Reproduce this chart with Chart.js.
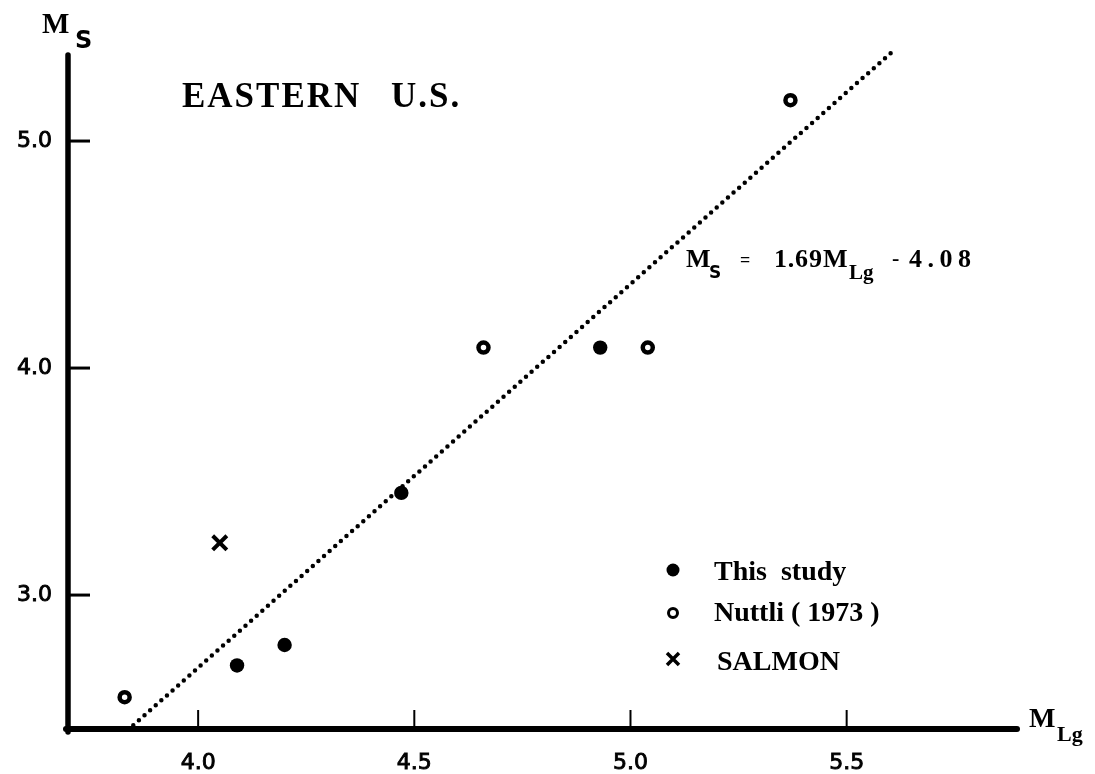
<!DOCTYPE html>
<html>
<head>
    <title>Eastern U.S. M_S vs M_Lg</title>
    <style>
        body { margin: 0; background: #fff; }
        #chart { display: block; }
    </style>
    <script src="https://cdn.jsdelivr.net/npm/chart.js"></script>
</head>
<body>
    <canvas id="chart" width="1095" height="774"></canvas>

    <script>
        // magnitudes, one pair of arrays per source
        const thisStudyLg = [4.09, 4.20, 4.47, 4.93];
        const thisStudyMs = [2.69, 2.78, 3.45, 4.09];
        const nuttliLg = [3.83, 4.66, 5.04, 5.37];
        const nuttliMs = [2.55, 4.09, 4.09, 5.18];
        const salmonLg = [4.05];
        const salmonMs = [3.23];

        // fitted line Ms = 1.69 MLg - 4.08, drawn over this MLg range
        const fitSlope = 1.69;
        const fitIntercept = -4.08;
        const fitRange = [3.85, 5.61];

        const xTickValues = [4.0, 4.5, 5.0, 5.5];
        const yTickValues = [3.0, 4.0, 5.0];

        const pairs = (xs, ys) => xs.map((x, i) => ({ x: x, y: ys[i] }));
        const fitLine = fitRange.map(x => ({ x: x, y: fitSlope * x + fitIntercept }));

        const SERIF = '"Liberation Serif", "DejaVu Serif", serif';
        const SANS = '"DejaVu Sans", sans-serif';

        function txt(ctx, s, x, y, font, spacing) {
            ctx.font = font;
            ctx.letterSpacing = (spacing || 0) + 'px';
            ctx.fillText(s, x, y);
            ctx.letterSpacing = '0px';
        }

        // axes with inward ticks, axis titles, headline, equation and key
        const decorations = {
            id: 'decorations',
            afterDraw(chart) {
                const ctx = chart.ctx;
                const xs = chart.scales.x, ys = chart.scales.y;
                const left = chart.chartArea.left, bottom = chart.chartArea.bottom;
                const top = chart.chartArea.top, right = chart.chartArea.right;
                ctx.save();
                ctx.strokeStyle = '#000';
                ctx.fillStyle = '#000';
                ctx.lineCap = 'round';

                // y axis
                ctx.lineWidth = 5.5;
                ctx.beginPath();
                ctx.moveTo(left, top);
                ctx.lineTo(left, bottom + 3);
                ctx.stroke();
                // x axis
                ctx.lineWidth = 6;
                ctx.beginPath();
                ctx.moveTo(left - 2, bottom);
                ctx.lineTo(right, bottom);
                ctx.stroke();

                ctx.lineCap = 'butt';
                ctx.lineWidth = 3;
                yTickValues.forEach(v => {
                    const py = ys.getPixelForValue(v);
                    ctx.beginPath();
                    ctx.moveTo(left, py);
                    ctx.lineTo(left + 22, py);
                    ctx.stroke();
                });
                ctx.lineWidth = 2;
                xTickValues.forEach(v => {
                    const px = xs.getPixelForValue(v);
                    ctx.beginPath();
                    ctx.moveTo(px, bottom);
                    ctx.lineTo(px, bottom - 19);
                    ctx.stroke();
                });

                ctx.textBaseline = 'alphabetic';
                ctx.textAlign = 'left';

                // axis titles
                txt(ctx, 'M', 42, 33, 'bold 29px ' + SERIF);
                txt(ctx, 'S', 75, 48, 'bold 24px ' + SANS);
                txt(ctx, 'M', 1029, 727, 'bold 28px ' + SERIF);
                txt(ctx, 'Lg', 1057, 741, 'bold 22px ' + SERIF);

                // headline
                txt(ctx, 'EASTERN', 182, 107, 'bold 35px ' + SERIF, 2);
                txt(ctx, 'U.S.', 391, 107, 'bold 35px ' + SERIF, 2);

                // equation of the fitted line
                txt(ctx, 'M', 686, 267, 'bold 26px ' + SERIF);
                txt(ctx, 'S', 709, 278, 'bold 17px ' + SANS);
                txt(ctx, '=', 740, 266, 'bold 18px ' + SERIF);
                txt(ctx, '1.69', 774, 267, 'bold 26px ' + SERIF, 0.8);
                txt(ctx, 'M', 823, 267, 'bold 26px ' + SERIF);
                txt(ctx, 'Lg', 849, 279, 'bold 21px ' + SERIF);
                txt(ctx, '-', 892, 265, 'bold 22px ' + SERIF);
                txt(ctx, '4.08', 909, 267, 'bold 26px ' + SERIF, 5.5);

                // key
                const keyX = 673;
                ctx.beginPath();
                ctx.arc(keyX, 570, 6.5, 0, Math.PI * 2);
                ctx.fill();
                ctx.lineWidth = 3;
                ctx.beginPath();
                ctx.arc(keyX, 613, 4.5, 0, Math.PI * 2);
                ctx.stroke();
                ctx.lineWidth = 3.5;
                ctx.beginPath();
                ctx.moveTo(keyX - 6, 653); ctx.lineTo(keyX + 6, 665);
                ctx.moveTo(keyX + 6, 653); ctx.lineTo(keyX - 6, 665);
                ctx.stroke();
                txt(ctx, 'This  study', 714, 580, 'bold 28px ' + SERIF);
                txt(ctx, 'Nuttli ( 1973 )', 714, 621, 'bold 28px ' + SERIF);
                txt(ctx, 'SALMON', 717, 670, 'bold 28px ' + SERIF);

                ctx.restore();
            }
        };

        const tickStyle = {
            font: { family: SANS, size: 22 },
            color: '#000',
            textStrokeColor: '#000',
            textStrokeWidth: 0.9,
            callback: v => v.toFixed(1)
        };

        new Chart(document.getElementById('chart'), {
            type: 'scatter',
            data: {
                datasets: [
                    {
                        label: 'Fit',
                        data: fitLine,
                        showLine: true,
                        borderColor: '#000',
                        borderWidth: 4.5,
                        borderDash: [0, 7.5],
                        borderCapStyle: 'round',
                        pointRadius: 0,
                        clip: false
                    },
                    {
                        label: 'This study',
                        data: pairs(thisStudyLg, thisStudyMs),
                        pointStyle: 'circle',
                        pointRadius: 7.2,
                        backgroundColor: '#000',
                        borderWidth: 0
                    },
                    {
                        label: 'Nuttli (1973)',
                        data: pairs(nuttliLg, nuttliMs),
                        pointStyle: 'circle',
                        pointRadius: 5,
                        backgroundColor: '#fff',
                        borderColor: '#000',
                        borderWidth: 4.5
                    },
                    {
                        label: 'SALMON',
                        data: pairs(salmonLg, salmonMs),
                        pointStyle: 'crossRot',
                        pointRadius: 10,
                        borderColor: '#000',
                        borderWidth: 4
                    }
                ]
            },
            options: {
                responsive: false,
                devicePixelRatio: 1,
                animation: false,
                layout: { padding: { top: 55, right: 78, bottom: 0, left: 0 } },
                plugins: { legend: { display: false }, tooltip: { enabled: false } },
                scales: {
                    x: {
                        type: 'linear',
                        min: 3.699,
                        max: 5.894,
                        grid: { display: false, drawTicks: false },
                        border: { display: false },
                        afterBuildTicks: s => { s.ticks = xTickValues.map(v => ({ value: v })); },
                        afterFit: s => { s.height = 45; },
                        ticks: Object.assign({ padding: 21, maxRotation: 0 }, tickStyle)
                    },
                    y: {
                        type: 'linear',
                        min: 2.41,
                        max: 5.379,
                        grid: { display: false, drawTicks: false },
                        border: { display: false },
                        afterBuildTicks: s => { s.ticks = yTickValues.map(v => ({ value: v })); },
                        afterFit: s => { s.width = 68; },
                        ticks: Object.assign({ padding: 16 }, tickStyle)
                    }
                }
            },
            plugins: [decorations]
        });
    </script>
</body>
</html>
